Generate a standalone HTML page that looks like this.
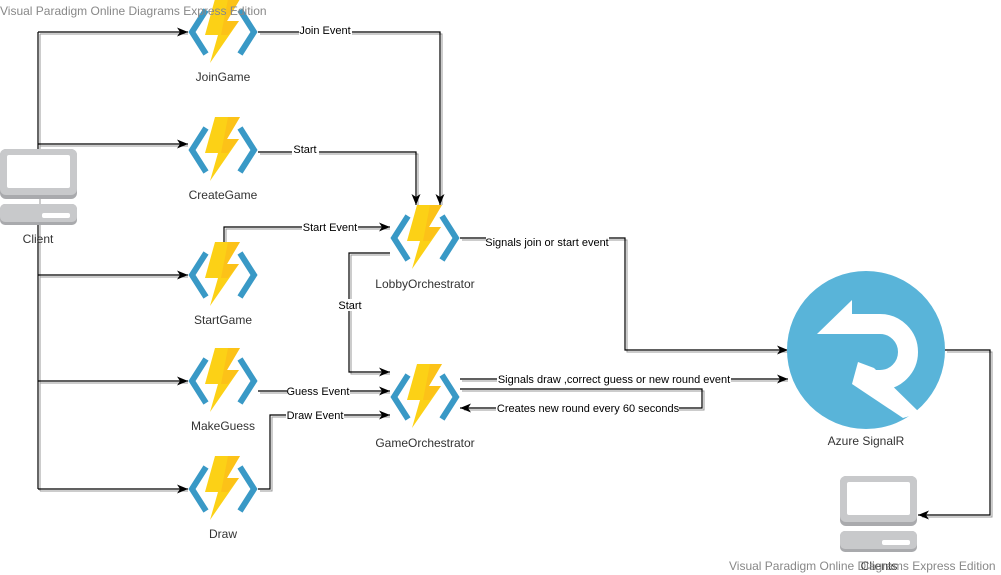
<!DOCTYPE html>
<html><head><meta charset="utf-8"><style>
html,body{margin:0;padding:0;background:#fff;}
svg{display:block;font-family:"Liberation Sans",Arial,sans-serif;}
</style></head><body>
<svg width="1001" height="575" viewBox="0 0 1001 575" xmlns="http://www.w3.org/2000/svg">
<defs>
<g id="fn">
<polyline points="18,11 4,33 18,55" fill="none" stroke="#3999c6" stroke-width="6"/>
<polyline points="52,11 66,33 52,55" fill="none" stroke="#3999c6" stroke-width="6"/>
<polygon points="27,0 52,0 39,22 51,22 22,64 30,36 17,36" fill="#fcd116"/>
<polygon points="40,0 52,0 39,22 51,22 40,36 33,36" fill="#fcbc1a" opacity="0.7"/>
</g>
<g id="pc">
<rect x="0" y="0" width="77" height="50" rx="6" fill="#a9aaad"/>
<rect x="0" y="0" width="77" height="46" rx="6" fill="#c8c9cb"/>
<rect x="7" y="6" width="63" height="33" rx="2" fill="#fff"/>
<rect x="0" y="55" width="77" height="21" rx="5" fill="#a9aaad"/>
<rect x="0" y="55" width="77" height="18" rx="5" fill="#c8c9cb"/>
<rect x="42" y="64" width="28" height="5" rx="2" fill="#fff"/>
</g>
<marker id="ar" markerWidth="12" markerHeight="12" refX="11" refY="6" orient="auto" markerUnits="userSpaceOnUse">
<path d="M0,1.5 L11,6 L0,10.5 L3,6 Z" fill="#000"/>
</marker>
</defs>

<!-- shadows -->
<g fill="none" stroke="#999" stroke-width="1" transform="translate(2,2)">
<polyline points="38,32 38,489"/>
<polyline points="38,32 186,32"/><polyline points="38,144 186,144"/><polyline points="38,275 186,275"/><polyline points="38,381 186,381"/><polyline points="38,489 186,489"/>
<polyline points="258,32 440,32 440,203"/>
<polyline points="258,152 416,152 416,203"/>
<polyline points="224,247 224,227 388,227"/>
<polyline points="460,238 625,238 625,350 786,350"/>
<polyline points="388,253 349,253 349,372 388,372"/>
<polyline points="258,391 388,391"/>
<polyline points="258,489 270,489 270,415 388,415"/>
<polyline points="460,379 786,379"/>
<polyline points="460,389 702,389 702,408 462,408"/>
<polyline points="945,350 990,350 990,515 920,515"/>
</g>

<use href="#pc" x="0" y="149"/>
<use href="#pc" x="840" y="476"/>

<g fill="none" stroke="#000" stroke-width="1.2" marker-end="url(#ar)">
<polyline points="38,32 38,149" marker-end="none"/>
<polyline points="38,225 38,489" marker-end="none"/>
<polyline points="38,32 188,32"/><polyline points="38,144 188,144"/><polyline points="38,275 188,275"/><polyline points="38,381 188,381"/><polyline points="38,489 188,489"/>
<polyline points="258,32 440,32 440,205"/>
<polyline points="258,152 416,152 416,205"/>
<polyline points="224,247 224,227 390,227"/>
<polyline points="460,238 625,238 625,350 788,350"/>
<polyline points="390,253 349,253 349,372 390,372"/>
<polyline points="258,391 390,391"/>
<polyline points="258,489 270,489 270,415 390,415"/>
<polyline points="460,379 788,379"/>
<polyline points="460,389 702,389 702,408 460,408"/>
<polyline points="945,350 990,350 990,515 918,515"/>
</g>

<!-- functions -->
<use href="#fn" x="188" y="-1"/>
<use href="#fn" x="188" y="117"/>
<use href="#fn" x="188" y="242"/>
<use href="#fn" x="188" y="348"/>
<use href="#fn" x="188" y="456"/>
<use href="#fn" x="390" y="205"/>
<use href="#fn" x="390" y="364"/>

<!-- SignalR -->
<circle cx="866" cy="350" r="79" fill="#59b4d9"/>
<polygon points="852,300 817,334 852,334" fill="#fff"/>
<path d="M850,324 H880 A28 28 0 0 1 880,380 H866" fill="none" stroke="#fff" stroke-width="20"/>
<polygon points="858,362 874,368 920,413 903,418 852,384" fill="#fff"/>

<g font-size="12" fill="#333" text-anchor="middle">
<text x="223" y="81">JoinGame</text>
<text x="223" y="199">CreateGame</text>
<text x="223" y="324">StartGame</text>
<text x="223" y="430">MakeGuess</text>
<text x="223" y="538">Draw</text>
<text x="425" y="288">LobbyOrchestrator</text>
<text x="425" y="447">GameOrchestrator</text>
<text x="38" y="243">Client</text>
<text x="866" y="445">Azure SignalR</text>
<text x="879" y="570">Clients</text>
</g>
<g font-size="11" fill="#000" text-anchor="middle">
<rect x="299" y="24" width="53" height="12" fill="#fff"/><text x="325" y="34">Join Event</text>
<rect x="292" y="144" width="27" height="12" fill="#fff"/><text x="305" y="153">Start</text>
<rect x="302" y="221" width="56" height="12" fill="#fff"/><text x="330" y="231">Start Event</text>
<rect x="486" y="236" width="123" height="12" fill="#fff"/><text x="547" y="246">Signals join or start event</text>
<rect x="337" y="299" width="26" height="12" fill="#fff"/><text x="350" y="309">Start</text>
<rect x="287" y="385" width="63" height="12" fill="#fff"/><text x="318" y="395">Guess Event</text>
<rect x="286" y="409" width="58" height="12" fill="#fff"/><text x="315" y="419">Draw Event</text>
<rect x="497" y="373" width="234" height="12" fill="#fff"/><text x="614" y="383">Signals draw ,correct guess or new round event</text>
<rect x="496" y="402" width="183" height="12" fill="#fff"/><text x="588" y="412">Creates new round every 60 seconds</text>
</g>
<g font-size="12" fill="#888">
<text x="0" y="15">Visual Paradigm Online Diagrams Express Edition</text>
<text x="729" y="570">Visual Paradigm Online Diagrams Express Edition</text>
</g>
</svg>
</body></html>
